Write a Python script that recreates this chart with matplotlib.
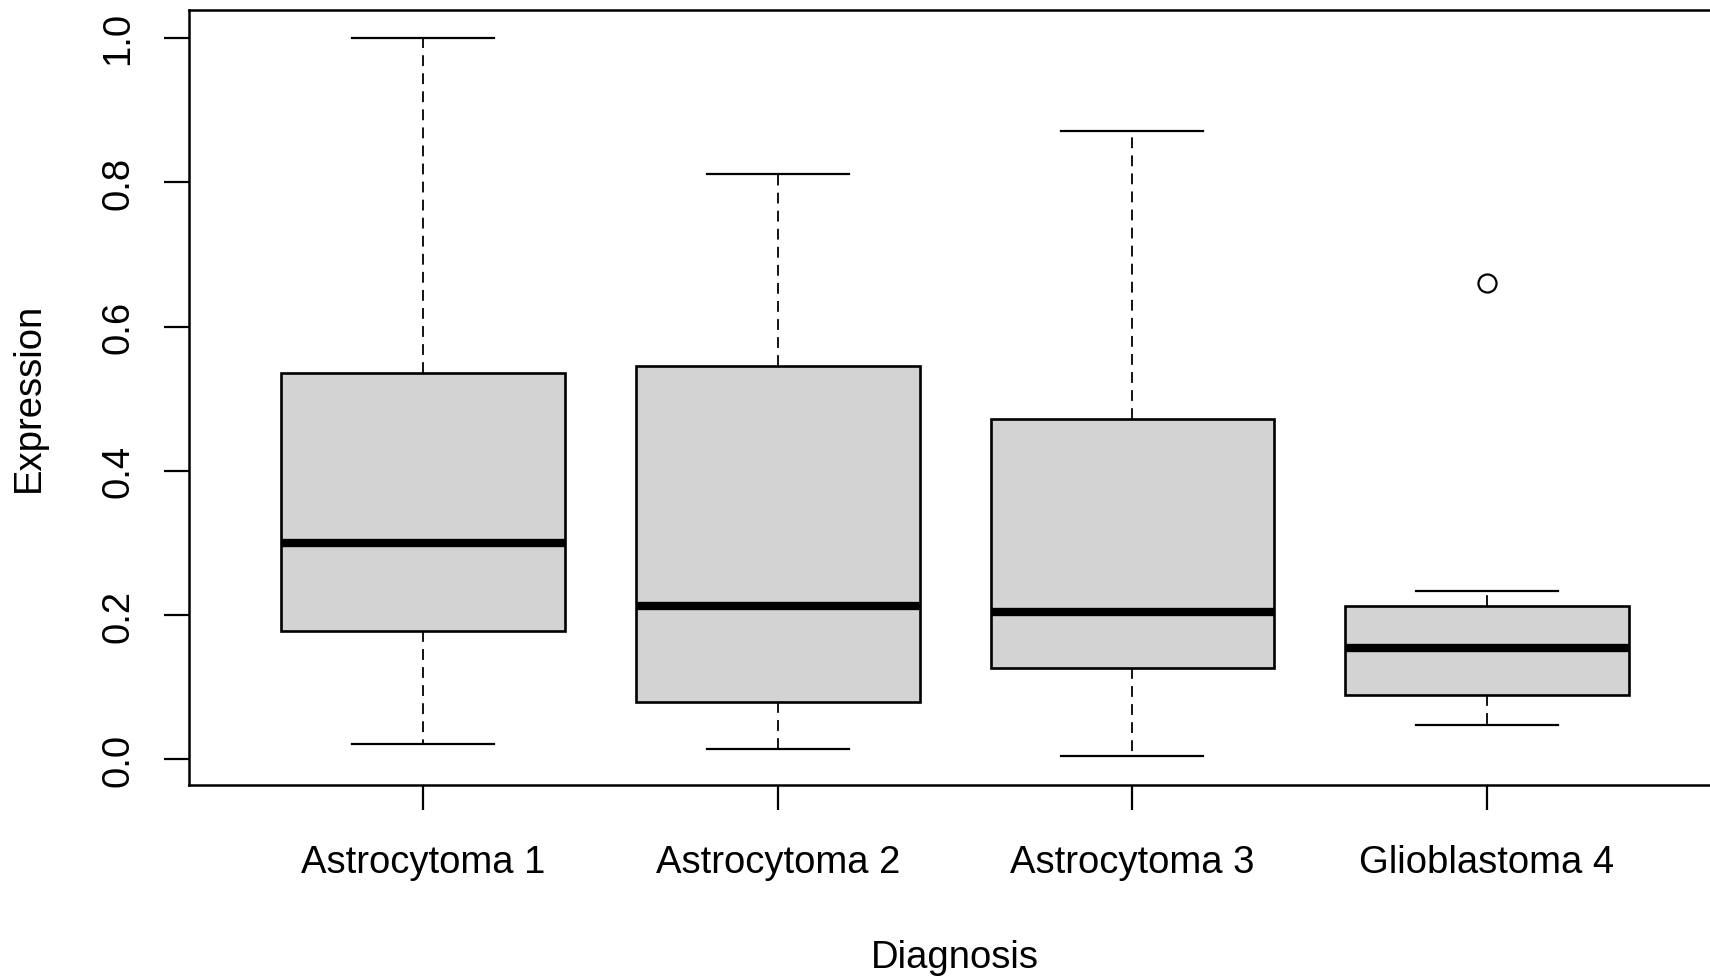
import matplotlib.pyplot as plt

plt.rcParams['font.family'] = ['Liberation Sans', 'DejaVu Sans']

groups = ["Astrocytoma 1", "Astrocytoma 2", "Astrocytoma 3", "Glioblastoma 4"]
whislo = [0.021, 0.014, 0.005, 0.048]
q1 = [0.178, 0.080, 0.127, 0.089]
med = [0.300, 0.212, 0.204, 0.154]
q3 = [0.536, 0.545, 0.472, 0.212]
whishi = [1.000, 0.812, 0.871, 0.234]
fliers = [[], [], [], [0.660]]

stats = []
for i, g in enumerate(groups):
    stats.append(dict(label=g, whislo=whislo[i], q1=q1[i], med=med[i],
                      q3=q3[i], whishi=whishi[i], fliers=fliers[i]))

fig = plt.figure(figsize=(17.1, 9.79), dpi=100)
ax = fig.add_axes([0.1105, 0.1975, 0.896, 0.7915])

ax.bxp(stats, positions=[1, 2, 3, 4], widths=0.8, patch_artist=True,
       boxprops=dict(facecolor='#d3d3d3', edgecolor='black', linewidth=1.9),
       medianprops=dict(color='black', linewidth=6, solid_capstyle='butt'),
       whiskerprops=dict(color='black', linewidth=1.3, linestyle=(0, (6, 4))),
       capprops=dict(color='black', linewidth=1.6),
       capwidths=0.4,
       flierprops=dict(marker='o', markerfacecolor='none', markeredgecolor='black',
                       markersize=13, markeredgewidth=1.6))

ax.set_xlim(0.34, 4.66)
ax.set_ylim(-0.035, 1.039)
ax.set_yticks([0.0, 0.2, 0.4, 0.6, 0.8, 1.0])
ax.set_yticklabels(["0.0", "0.2", "0.4", "0.6", "0.8", "1.0"], rotation=90, va='center')
ax.set_xticks([1, 2, 3, 4])
ax.set_xticklabels(groups)

ax.tick_params(axis='both', labelsize=27.5, length=18, width=1.6, direction='out')
ax.tick_params(axis='x', pad=25)
ax.tick_params(axis='y', pad=20)

for s in ax.spines.values():
    s.set_linewidth(1.8)

fig.text(0.5585, 0.021, "Diagnosis", fontsize=27.5, ha='center', va='center')
fig.text(0.017, 0.594, "Expression", fontsize=27.5, ha='center', va='center', rotation=90)

fig.savefig("out.png", dpi=100)
